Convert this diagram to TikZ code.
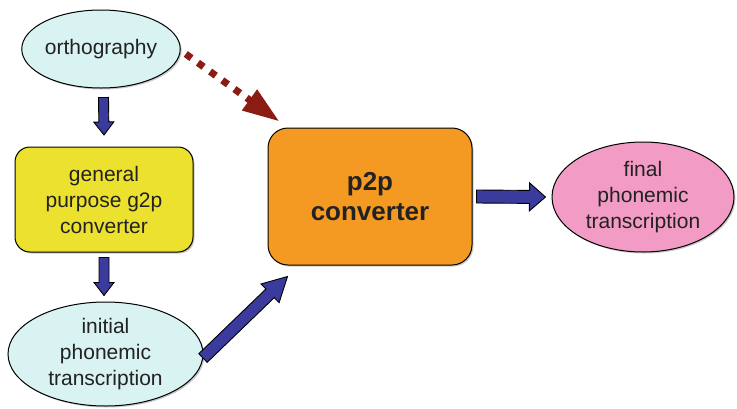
\documentclass[tikz,border=0pt]{standalone}
\usepackage{fontspec}
\setmainfont{Liberation Sans}
\usetikzlibrary{shapes.geometric,arrows.meta,calc,shadows}

\definecolor{paleCyan}{HTML}{D8F3F1}
\definecolor{g2pYellow}{HTML}{EDE12F}
\definecolor{p2pOrange}{HTML}{F49A22}
\definecolor{finalPink}{HTML}{F29BC5}
\definecolor{arrowBlue}{HTML}{3B3A9D}
\definecolor{darkRed}{HTML}{8B1C14}
\definecolor{inkGray}{HTML}{222222}

% filled block arrow: #1 shaft half-width, #2 head half-width, #3 head length, #4 tail, #5 tip
\newcommand\blockarrow[5]{%
  \filldraw[blockstyle] let \p1=(#4), \p2=(#5),
      \n1={atan2(\y2-\y1,\x2-\x1)}, \n2={veclen(\x2-\x1,\y2-\y1)} in
    ($(\p1)+(\n1+90:#1)$) -- ++(\n1:{\n2-#3}) -- ++(\n1+90:{#2-#1})
    -- (\p2)
    -- ($(\p1)+(\n1:{\n2-#3})+(\n1-90:#2)$) -- ++(\n1+90:{#2-#1})
    -- ($(\p1)+(\n1-90:#1)$) -- cycle;}

\begin{document}
\begin{tikzpicture}[x=1pt,y=-1pt,
  every node/.style={text=inkGray, font=\fontsize{21}{26}\selectfont, align=center, inner sep=0pt},
  softshadow/.style={drop shadow={shadow xshift=1.5pt, shadow yshift=-1.5pt, opacity=0.35, fill=black!60}},
  oval/.style={ellipse, draw=black, line width=1pt, softshadow},
  roundbox/.style={rectangle, draw=black, line width=1pt, softshadow},
  blockstyle/.style={fill=arrowBlue, draw=black, line width=0.9pt, line join=miter},
  dotline/.style={draw=darkRed, line width=7pt, dash pattern=on 7pt off 8pt,
    -{Triangle[length=37pt,width=24pt]}}
]
\useasboundingbox (0,0) rectangle (737,408);

% nodes
\node[oval, fill=paleCyan, minimum width=128pt, minimum height=78pt] (orth) at (101,49) {orthography};
\node[roundbox, fill=g2pYellow, rounded corners=15pt, minimum width=178pt, minimum height=105pt] (g2p) at (104,199.5)
  {general\\purpose g2p\\converter};
\node[oval, fill=paleCyan, minimum width=195pt, minimum height=104pt] (init) at (105.5,354)
  {initial\\phonemic\\transcription};
\node[roundbox, fill=p2pOrange, rounded corners=20pt, minimum width=204pt, minimum height=137pt,
  font=\fontsize{26}{30}\selectfont\bfseries] (p2p) at (370,196.5)
  {p2p\\converter};
\node[oval, fill=finalPink, minimum width=182pt, minimum height=110pt] (final) at (643,197)
  {final\\phonemic\\transcription};

% connector end points (arrows stop short of the shapes)
\coordinate (o2gS) at ($(orth.south)+(2.5,9)$);
\coordinate (o2gE) at ($(g2p.north)+(0,-11.5)$);
\coordinate (g2iS) at ($(g2p.south)+(0,5)$);
\coordinate (g2iE) at ($(g2p.south)+(0,43)$);
\coordinate (i2pS) at ($(init.east)+(-0.5,4)$);
\coordinate (i2pE) at ($(p2p.south west)+(20,11)$);
\coordinate (p2fS) at ($(p2p.east)+(4,0)$);
\coordinate (p2fE) at ($(final.west)+(-6,0)$);
\coordinate (o2pS) at ($(orth.east)+(5,5)$);
\coordinate (o2pE) at ($(p2p.north west)+(12,-6)$);

% dotted connector from orthography
\draw[dotline] (o2pS) -- (o2pE);

% block arrows
\blockarrow{5pt}{10pt}{13pt}{o2gS}{o2gE}
\blockarrow{5pt}{10pt}{13pt}{g2iS}{g2iE}
\blockarrow{6pt}{13pt}{24pt}{i2pS}{i2pE}
\blockarrow{6.5pt}{14pt}{16pt}{p2fS}{p2fE}
\end{tikzpicture}
\end{document}
